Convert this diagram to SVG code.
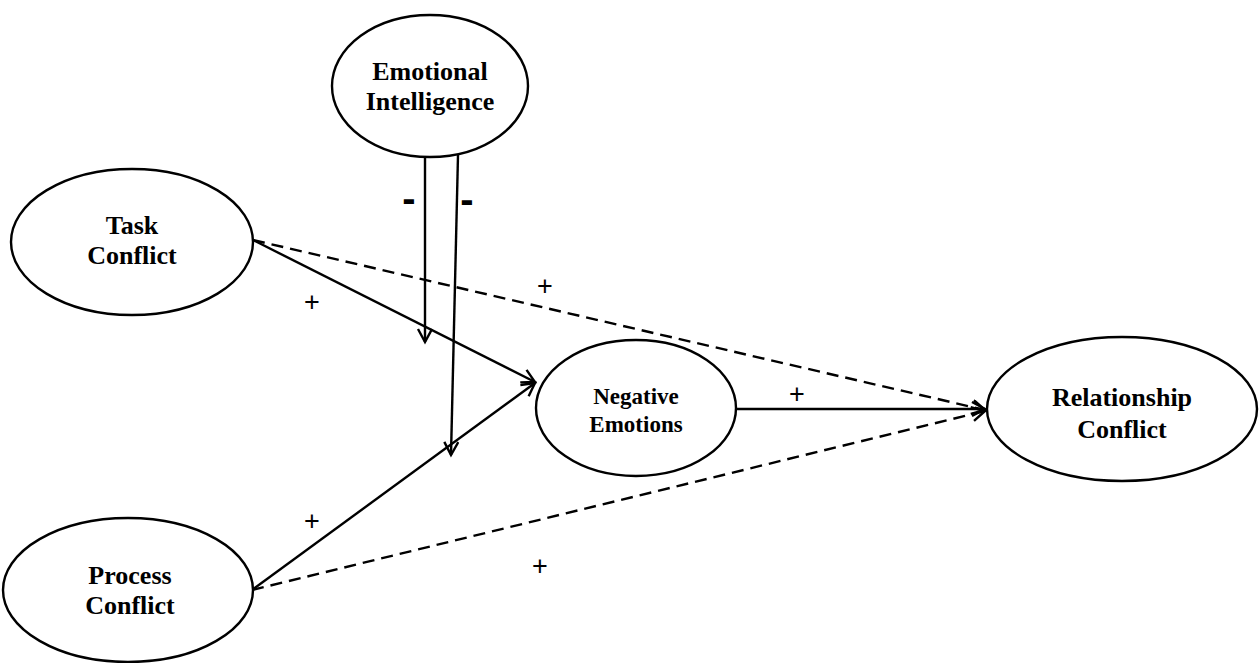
<svg xmlns="http://www.w3.org/2000/svg" width="1259" height="663" viewBox="0 0 1259 663">
<style>
.node{fill:#fff;stroke:#000;stroke-width:2.4}
.lbl{font-family:"Liberation Serif","Times New Roman",serif;font-weight:bold;font-size:26px;text-anchor:middle;fill:#000}
.sm{font-size:23px}
.ln{stroke:#000;stroke-width:2.4;fill:none}
.dash{stroke-dasharray:12,7}
.sign{font-family:"Liberation Sans",Arial,sans-serif;font-size:27px;text-anchor:middle;fill:#000}
.minus{font-family:"Liberation Sans",Arial,sans-serif;font-size:40px;font-weight:bold;text-anchor:middle;fill:#000}
</style>
<defs>
<marker id="arr" markerWidth="18" markerHeight="18" refX="14" refY="8" orient="auto" markerUnits="userSpaceOnUse">
<path d="M1,1 L14,8 L1,15" fill="none" stroke="#000" stroke-width="2.4"/>
</marker>
</defs>
<rect width="1259" height="663" fill="#fff"/>
<g id="connectors">
<line class="ln" x1="425" y1="155" x2="425" y2="342" marker-end="url(#arr)"/>
<line class="ln" x1="458" y1="155" x2="451" y2="455" marker-end="url(#arr)"/>
<line class="ln" x1="253" y1="240" x2="535" y2="382" marker-end="url(#arr)"/>
<line class="ln dash" x1="253" y1="240" x2="985" y2="410" marker-end="url(#arr)"/>
<line class="ln" x1="252" y1="590" x2="535" y2="383" marker-end="url(#arr)"/>
<line class="ln dash" x1="252" y1="590" x2="985" y2="411" marker-end="url(#arr)"/>
<line class="ln" x1="736" y1="409" x2="985" y2="409" marker-end="url(#arr)"/>
<text class="minus" x="409" y="212">-</text>
<text class="minus" x="467" y="213">-</text>
<text class="sign" x="312" y="311">+</text>
<text class="sign" x="545" y="295">+</text>
<text class="sign" x="797" y="403">+</text>
<text class="sign" x="312" y="530">+</text>
<text class="sign" x="540" y="575">+</text>
</g>
<g id="emotional-intelligence">
<ellipse class="node" cx="430" cy="86" rx="98" ry="71"/>
<text class="lbl" x="430" y="80">Emotional</text>
<text class="lbl" x="430" y="110">Intelligence</text>
</g>
<g id="task-conflict">
<ellipse class="node" cx="132" cy="242" rx="121" ry="73"/>
<text class="lbl" x="132" y="234">Task</text>
<text class="lbl" x="132" y="264">Conflict</text>
</g>
<g id="process-conflict">
<ellipse class="node" cx="128" cy="590" rx="125" ry="72"/>
<text class="lbl" x="130" y="584">Process</text>
<text class="lbl" x="130" y="614">Conflict</text>
</g>
<g id="negative-emotions">
<ellipse class="node" cx="636" cy="408" rx="100" ry="68"/>
<text class="lbl sm" x="636" y="404">Negative</text>
<text class="lbl sm" x="636" y="432">Emotions</text>
</g>
<g id="relationship-conflict">
<ellipse class="node" cx="1122" cy="409" rx="135" ry="72"/>
<text class="lbl" x="1122" y="406">Relationship</text>
<text class="lbl" x="1122" y="438">Conflict</text>
</g>
</svg>
